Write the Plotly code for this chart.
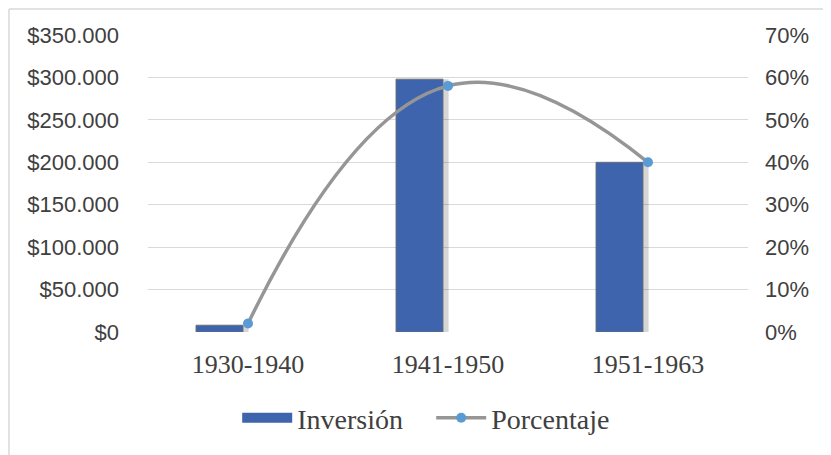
import plotly.graph_objects as go

categories = ["1930-1940", "1941-1950", "1951-1963"]
inversion = [8000, 298000, 200000]
porcentaje = [2, 58, 40]
y_ticks = [0, 50000, 100000, 150000, 200000, 250000, 300000, 350000]
y2_ticks = [0, 10, 20, 30, 40, 50, 60, 70]

y_text = ["$" + f"{v:,}".replace(",", ".") for v in y_ticks]
y2_text = [f"{v}%" for v in y2_ticks]

SERIF = "Liberation Serif"
SANS = "Liberation Sans"
TXT = "#404040"
BAR = "#3d64ad"

fig = go.Figure()

# bar shadow
fig.add_trace(go.Bar(
    x=categories, y=inversion, offset=-0.232, width=0.235,
    marker=dict(color="rgba(0,0,0,0.16)", line=dict(width=0)),
    showlegend=False, hoverinfo="skip"))

fig.add_trace(go.Bar(
    x=categories, y=inversion, name="Inversión", offset=-0.26, width=0.235,
    marker=dict(color=BAR, line=dict(color="rgba(110,110,110,0.9)", width=1)),
    legendgroup="inv", showlegend=False))

# legend swatch for the bars (wide rectangle like the original)
fig.add_trace(go.Scatter(
    x=[None], y=[None], name="Inversión", mode="lines",
    line=dict(color=BAR, width=10), legendgroup="inv", legendrank=1))

fig.add_trace(go.Scatter(
    x=categories, y=porcentaje, name="Porcentaje", yaxis="y2", legendrank=2,
    mode="lines+markers", line=dict(color="#969696", width=3.5, shape="spline", smoothing=1.3),
    marker=dict(color="#5b9bd5", size=10, line=dict(width=0))))

fig.update_layout(
    width=831, height=455,
    margin=dict(l=140, r=91, t=27, b=131),
    paper_bgcolor="white", plot_bgcolor="white",
    barmode="overlay",
    font=dict(family=SERIF, size=24, color=TXT),
    xaxis=dict(type="category", range=[-0.5, 2.5], showgrid=False, showline=False,
               ticks="", ticklabelstandoff=14, tickfont=dict(family=SERIF, size=26, color=TXT)),
    yaxis=dict(range=[0, 350000], tickmode="array", tickvals=y_ticks, ticktext=y_text,
               showgrid=True, gridcolor="#d9d9d9", gridwidth=1.3, zeroline=False,
               ticks="", ticklabelstandoff=28, tickfont=dict(family=SANS, size=22, color=TXT)),
    yaxis2=dict(range=[0, 70], tickmode="array", tickvals=y2_ticks, ticktext=y2_text,
                overlaying="y", side="right",
                showgrid=False, zeroline=False, ticks="", ticklabelstandoff=16,
                tickfont=dict(family=SANS, size=22, color=TXT)),
    legend=dict(orientation="h", x=0.472, xanchor="center", y=-0.29, yanchor="middle",
                font=dict(family=SERIF, size=28, color=TXT), tracegroupgap=0,
                entrywidth=129, entrywidthmode="pixels", itemwidth=50),
    shapes=[
        dict(type="line", xref="paper", yref="paper", x0=-0.2317, x1=1.3, y0=1.0875, y1=1.0875,
             line=dict(color="#d9d9d9", width=1.5)),
        dict(type="line", xref="paper", yref="paper", x0=-0.2317, x1=-0.2317, y0=1.0875, y1=-0.5,
             line=dict(color="#d9d9d9", width=1.5)),
    ],
)

fig.write_html("out.html")
